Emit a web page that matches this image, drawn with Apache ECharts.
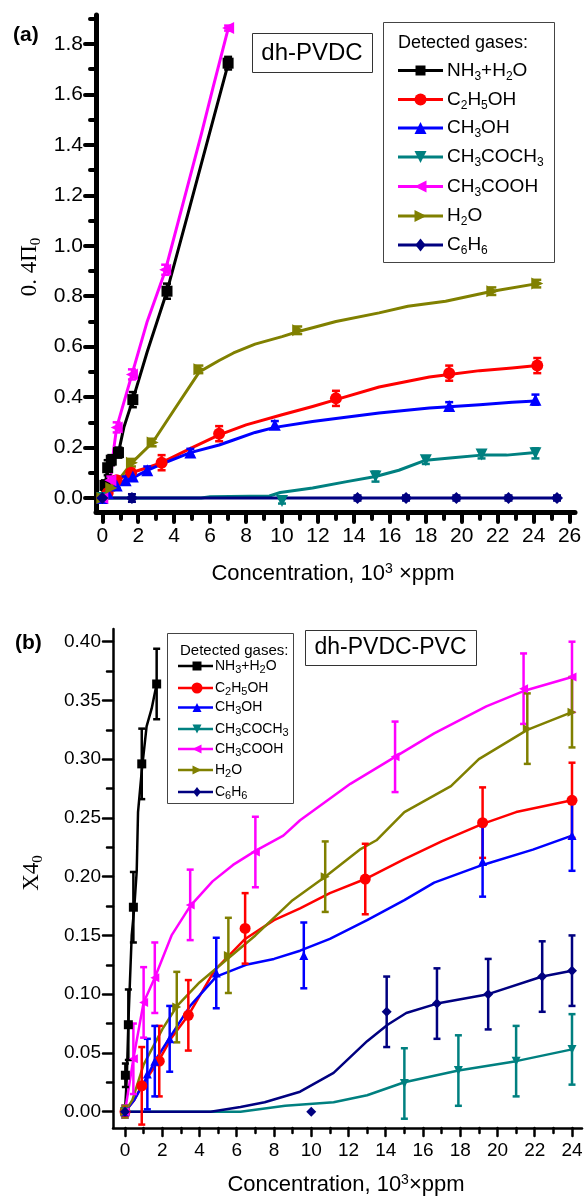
<!DOCTYPE html>
<html>
<head>
<meta charset="utf-8">
<script src="https://cdn.jsdelivr.net/npm/echarts@6/dist/echarts.min.js"></script>
<style>html,body{margin:0;padding:0;background:#fff;}#c{width:587px;height:1198px;}</style>
</head>
<body>
<div id="c"></div>
<script>
// ---------- tick labels ----------
const xTicksA = [0,2,4,6,8,10,12,14,16,18,20,22,24,26];
const xMinorA = [1,3,5,7,9,11,13,15,17,19,21,23,25];
const yTicksA = [0,0.2,0.4,0.6,0.8,1.0,1.2,1.4,1.6,1.8];
const yMinorA = [0.1,0.3,0.5,0.7,0.9,1.1,1.3,1.5,1.7,1.9];
const xTicksB = [0,2,4,6,8,10,12,14,16,18,20,22,24];
const xMinorB = [1,3,5,7,9,11,13,15,17,19,21,23];
const yTicksB = [0,0.05,0.10,0.15,0.20,0.25,0.30,0.35,0.40];
const yMinorB = [0.025,0.075,0.125,0.175,0.225,0.275,0.325,0.375];

const gasNames = ['NH_3+H_2O','C_2H_5OH','CH_3OH','CH_3COCH_3','CH_3COOH','H_2O','C_6H_6'];

// ---------- chart (a): dh-PVDC ----------  curves [x,y], markers [x,y,err]
const curveA_NH3 = [[0,0],[0.15,0.05],[0.3,0.12],[0.5,0.15],[0.9,0.18],[1.2,0.28],[1.7,0.39],[2.5,0.58],[3.6,0.82],[4.7,1.11],[6.17,1.5],[7.0,1.72]];
const markA_NH3 = [[0,0,0.01],[0.15,0.05,0.02],[0.3,0.12,0.03],[0.5,0.15,0.02],[0.9,0.18,0.02],[1.7,0.39,0.03],[3.6,0.82,0.03],[7.0,1.724,0.025]];
const curveA_C2H5OH = [[0,0],[0.3,0.02],[0.8,0.07],[1.6,0.1],[2.5,0.12],[3.3,0.14],[5,0.2],[6.5,0.25],[8,0.29],[10,0.33],[11.7,0.363],[13,0.39],[15.4,0.44],[18.2,0.48],[19.3,0.49],[21,0.505],[22.8,0.515],[24.2,0.525]];
const markA_C2H5OH = [[0,0,0.01],[0.3,0.02,0.01],[0.8,0.07,0.015],[1.6,0.1,0.015],[3.3,0.14,0.03],[6.5,0.255,0.03],[13,0.395,0.03],[19.3,0.495,0.03],[24.2,0.525,0.03]];
const curveA_CH3OH = [[0,0],[0.3,0.02],[0.8,0.05],[1.3,0.07],[1.7,0.08],[2.5,0.11],[3.5,0.14],[4.9,0.18],[6.5,0.21],[7.3,0.23],[8.5,0.26],[9.6,0.28],[11.7,0.303],[13,0.315],[15.4,0.337],[18.2,0.357],[19.3,0.362],[21,0.37],[22.8,0.38],[24.1,0.385]];
const markA_CH3OH = [[0,0,0.01],[0.3,0.02,0.01],[0.8,0.05,0.01],[1.3,0.07,0.015],[1.7,0.085,0.015],[2.5,0.11,0.015],[4.9,0.18,0.015],[9.6,0.29,0.015],[19.3,0.365,0.015],[24.1,0.39,0.02]];
const curveA_CH3COCH3 = [[0,0],[5.5,0],[6,0.005],[9.3,0.008],[9.9,0.022],[11.7,0.04],[13.6,0.065],[15.2,0.085],[16.5,0.11],[18,0.15],[19.5,0.16],[21.1,0.17],[22.5,0.17],[24.1,0.18]];
const markA_CH3COCH3 = [[0,0,0.01],[10,-0.012,0.01],[15.2,0.085,0.02],[18,0.15,0.015],[21.1,0.172,0.015],[24.1,0.177,0.02]];
const curveA_CH3COOH = [[0,0],[0.45,0.07],[0.63,0.19],[0.8,0.28],[1.65,0.49],[2.5,0.7],[3.5,0.9],[4.5,1.17],[5.5,1.44],[6.17,1.63],[7.0,1.86]];
const markA_CH3COOH = [[0,0,0.01],[0.45,0.07,0.015],[0.8,0.28,0.02],[1.65,0.49,0.02],[3.5,0.905,0.02],[7.0,1.863,0.01]];
const curveA_H2O = [[0,0],[0.5,0.04],[1,0.08],[1.65,0.14],[2.8,0.22],[4,0.35],[5.4,0.5],[6.5,0.545],[7.3,0.575],[8.5,0.61],[10,0.64],[10.9,0.66],[11.7,0.675],[13,0.7],[15.4,0.734],[17,0.76],[19.1,0.78],[21.7,0.82],[24.2,0.85]];
const markA_H2O = [[0,0,0.01],[0.5,0.04,0.01],[1.65,0.14,0.015],[2.8,0.22,0.015],[5.4,0.51,0.015],[10.9,0.665,0.015],[21.7,0.82,0.015],[24.2,0.85,0.015]];
const curveA_C6H6 = [[0,0],[25.3,0]];
const markA_C6H6 = [[0,0,0.01],[1.65,0,0.015],[14.2,0,0.01],[16.9,0,0.01],[19.7,0,0.01],[22.6,0,0.01],[25.3,0,0.01]];

// ---------- chart (b): dh-PVDC-PVC ----------
const curveB_NH3 = [[0,0],[0.1,0.03],[0.18,0.075],[0.36,0.15],[0.5,0.174],[0.63,0.205],[0.7,0.255],[0.9,0.29],[1.16,0.328],[1.43,0.343],[1.7,0.364]];
const markB_NH3 = [[0,0,0],[0.02,0.031,0.01],[0.18,0.074,0.03],[0.45,0.174,0.03],[0.9,0.296,0.03],[1.7,0.364,0.03]];
const curveB_C2H5OH = [[0,0],[0.5,0.01],[0.9,0.022],[1.8,0.043],[2.5,0.063],[3.4,0.082],[4.8,0.12],[6.45,0.147],[8,0.163],[9.4,0.173],[11,0.186],[12.9,0.198],[15,0.215],[17,0.23],[19.2,0.245],[21,0.255],[24,0.265]];
const markB_C2H5OH = [[0,0,0.005],[0.9,0.022,0.033],[1.84,0.043,0.03],[3.4,0.082,0.03],[6.45,0.156,0.03],[12.9,0.198,0.03],[19.2,0.246,0.03],[24,0.265,0.032]];
const curveB_CH3OH = [[0,0],[0.5,0.01],[1.2,0.03],[1.6,0.043],[2.4,0.063],[3.5,0.09],[4.9,0.115],[6.5,0.125],[8,0.13],[9.4,0.137],[11,0.147],[13,0.163],[15,0.18],[16.6,0.195],[19.2,0.21],[21.9,0.223],[24,0.235]];
const markB_CH3OH = [[0,0,0.005],[1.2,0.032,0.03],[1.6,0.043,0.03],[2.4,0.062,0.028],[4.9,0.118,0.03],[9.6,0.133,0.028],[19.2,0.213,0.03],[24,0.235,0.03]];
const curveB_CH3COCH3 = [[0,0],[6.2,0],[8.6,0.005],[11.2,0.008],[13,0.014],[15,0.025],[17.9,0.035],[21,0.043],[24,0.053]];
const markB_CH3COCH3 = [[0,0,0],[15,0.024,0.03],[17.9,0.035,0.03],[21,0.043,0.03],[24,0.053,0.03]];
const curveB_CH3COOH = [[0,0],[0.45,0.045],[1,0.093],[1.6,0.114],[2.5,0.15],[3.5,0.175],[4.7,0.196],[5.8,0.21],[7,0.222],[8.5,0.235],[9.4,0.248],[12.1,0.279],[14.5,0.302],[16.6,0.322],[19.4,0.345],[21.4,0.358],[24,0.37]];
const markB_CH3COOH = [[0,0,0.005],[0.45,0.045,0.03],[1,0.093,0.03],[1.6,0.114,0.03],[3.5,0.176,0.03],[7,0.221,0.03],[14.5,0.302,0.03],[21.4,0.36,0.03],[24,0.37,0.03]];
const curveB_H2O = [[0,0],[0.4,0.01],[1,0.04],[2,0.07],[2.8,0.09],[4,0.11],[5.5,0.13],[7,0.15],[9,0.18],[10.75,0.2],[12.6,0.223],[13.5,0.231],[15,0.255],[17.5,0.277],[19,0.3],[21.6,0.325],[24,0.34]];
const markB_H2O = [[0,0,0.005],[2.78,0.089,0.03],[5.55,0.133,0.032],[10.75,0.2,0.03],[21.6,0.326,0.03],[24,0.34,0.03]];
const curveB_C6H6 = [[0,0],[4.6,0],[6.2,0.004],[7.5,0.008],[9.4,0.017],[11.2,0.033],[13,0.06],[14.1,0.074],[15.1,0.084],[16.75,0.092],[19.5,0.1],[22.4,0.115],[24,0.12]];
const markB_C6H6 = [[0,0,0],[10,0,0],[14.05,0.085,0.03],[16.75,0.092,0.03],[19.5,0.1,0.03],[22.4,0.115,0.03],[24,0.12,0.03]];

const curvesA = [curveA_NH3,curveA_C2H5OH,curveA_CH3OH,curveA_CH3COCH3,curveA_CH3COOH,curveA_H2O,curveA_C6H6];
const marksA  = [markA_NH3,markA_C2H5OH,markA_CH3OH,markA_CH3COCH3,markA_CH3COOH,markA_H2O,markA_C6H6];
const curvesB = [curveB_NH3,curveB_C2H5OH,curveB_CH3OH,curveB_CH3COCH3,curveB_CH3COOH,curveB_H2O,curveB_C6H6];
const marksB  = [markB_NH3,markB_C2H5OH,markB_CH3OH,markB_CH3COCH3,markB_CH3COOH,markB_H2O,markB_C6H6];

// ---------- styles ----------
const colors = ['#000000','#ff0000','#0000ff','#008080','#ff00ff','#808000','#000080'];
const symbols = ['rect','circle','triangle','triangle','triangle','triangle','diamond'];
const rotates = [0,0,0,180,90,-90,0];
const shapeKind = ['rect','circle','up','down','left','right','diamond'];
const FONT = 'Liberation Sans';
const SERIF = 'Liberation Serif';

function errRender(cap, lw, color){
  return function(params, api){
    const x = api.value(0), y = api.value(1), e = api.value(2);
    if (!e) return null;
    const t = api.coord([x, y + e]), b = api.coord([x, y - e]);
    const st = {stroke: color, lineWidth: lw};
    return {type:'group', children:[
      {type:'line', shape:{x1:t[0],y1:t[1],x2:b[0],y2:b[1]}, style:st},
      {type:'line', shape:{x1:t[0]-cap,y1:t[1],x2:t[0]+cap,y2:t[1]}, style:st},
      {type:'line', shape:{x1:b[0]-cap,y1:b[1],x2:b[0]+cap,y2:b[1]}, style:st}
    ]};
  };
}

const series = [];
function addChart(curves, marks, axisIdx, lw, msize, cap, elw){
  for (let i = 0; i < 7; i++){
    series.push({type:'line', xAxisIndex:axisIdx, yAxisIndex:axisIdx, data:curves[i],
      symbol:'none', smooth:false, lineStyle:{color:colors[i], width:lw, join:'round'}, z:2, silent:true});
    series.push({type:'custom', xAxisIndex:axisIdx, yAxisIndex:axisIdx, data:marks[i],
      encode:{x:0,y:1}, renderItem:errRender(cap, elw, colors[i]), z:3, silent:true});
    series.push({type:'scatter', xAxisIndex:axisIdx, yAxisIndex:axisIdx,
      data:marks[i].map(m => [m[0], m[1]]), symbol:symbols[i], symbolSize:msize[i], symbolRotate:rotates[i],
      itemStyle:{color:colors[i], opacity:1}, z:4, silent:true});
  }
}
addChart(curvesA, marksA, 0, 3, [11,12,12,12,12,12,12], 4, 2.5);
addChart(curvesB, marksB, 2, 2.5, [9,11,9,9,9,9,10], 3.5, 2.5);

function valAxis(grid, pos, min, max, major, minor, opts, isMinor){
  return {type:'value', gridIndex:grid, position:pos, min:min, max:max,
    splitLine:{show:false},
    axisLine:{show:!isMinor, onZero:false, lineStyle:{color:'#000', width:opts.lineW}},
    axisTick:{show:true, inside:false, length: isMinor ? opts.minorLen : opts.majorLen,
      customValues: isMinor ? minor : major, lineStyle:{color:'#000', width:opts.tickW, cap:'round'}},
    axisLabel:{show:!isMinor, customValues: major, color:'#000', fontFamily:FONT, fontSize:opts.fs, margin:opts.margin,
      formatter: opts.fmt},
    axisPointer:{show:false}
  };
}
const fmtInt = v => String(Math.round(v));
const fmt1 = v => v.toFixed(1);
const fmt2 = v => v.toFixed(2);

const optA_x = {lineW:5, tickW:4, majorLen:10, minorLen:7, fs:21, margin:14, fmt:fmtInt};
const optA_y = {lineW:5, tickW:4, majorLen:11, minorLen:6, fs:21, margin:13, fmt:fmt1};
const optB_x = {lineW:2.5, tickW:2.5, majorLen:8, minorLen:5, fs:19, margin:13, fmt:fmtInt};
const optB_y = {lineW:2.5, tickW:2.5, majorLen:10, minorLen:6, fs:19, margin:12, fmt:fmt2};

const xAxes = [
  valAxis(0,'bottom',-0.35,26.3,xTicksA,xMinorA,optA_x,false),
  valAxis(0,'bottom',-0.35,26.3,xTicksA,xMinorA,optA_x,true),
  valAxis(1,'bottom',-0.644,24.537,xTicksB,xMinorB,optB_x,false),
  valAxis(1,'bottom',-0.644,24.537,xTicksB,xMinorB,optB_x,true)
];
const yAxes = [
  valAxis(0,'left',-0.0555,1.915,yTicksA,yMinorA,optA_y,false),
  valAxis(0,'left',-0.0555,1.915,yTicksA,yMinorA,optA_y,true),
  valAxis(1,'left',-0.0139,0.4108,yTicksB,yMinorB,optB_y,false),
  valAxis(1,'left',-0.0139,0.4108,yTicksB,yMinorB,optB_y,true)
];

// ---------- graphic texts / legends ----------
function richLabel(s){
  return s.split(/(_\d)/).filter(t => t).map(t => t[0] === '_' ? '{s|' + t.slice(1) + '}' : '{n|' + t + '}').join('');
}
function shapeEl(kind, cx, cy, s, color){
  const h = s / 2;
  const st = {fill:color};
  if (kind === 'rect') return {type:'rect', shape:{x:cx-h, y:cy-h, width:s, height:s}, style:st, z:102};
  if (kind === 'circle') return {type:'circle', shape:{cx:cx, cy:cy, r:h}, style:st, z:102};
  let pts;
  if (kind === 'up') pts = [[cx,cy-h],[cx+h,cy+h],[cx-h,cy+h]];
  else if (kind === 'down') pts = [[cx,cy+h],[cx+h,cy-h],[cx-h,cy-h]];
  else if (kind === 'left') pts = [[cx-h,cy],[cx+h,cy-h],[cx+h,cy+h]];
  else if (kind === 'right') pts = [[cx+h,cy],[cx-h,cy-h],[cx-h,cy+h]];
  else pts = [[cx,cy-h*1.1],[cx+h*0.85,cy],[cx,cy+h*1.1],[cx-h*0.85,cy]];
  return {type:'polygon', shape:{points:pts}, style:st, z:102};
}
function txt(x, y, text, rich, align, size, weight, extra){
  const st = {text:text, fill:'#000', textAlign:align||'left', align:align||'left',
      textVerticalAlign:'middle', verticalAlign:'middle', fontFamily:FONT};
  if (rich) st.rich = rich;
  if (size) st.fontSize = size;
  if (weight) st.fontWeight = weight;
  const el = {type:'text', x:x, y:y, z:103, style:st};
  if (extra) Object.assign(el, extra);
  return el;
}

const graphics = [];
graphics.push(txt(13, 35, '(a)', null, 'left', 21, 'bold'));
graphics.push(txt(15, 643, '(b)', null, 'left', 21, 'bold'));

// title boxes
graphics.push({type:'rect', z:100, shape:{x:252.5, y:33.5, width:120, height:39}, style:{fill:'#fff', stroke:'#333', lineWidth:1}});
graphics.push(txt(312, 53, 'dh-PVDC', null, 'center', 24));
graphics.push({type:'rect', z:100, shape:{x:305.5, y:630.5, width:171, height:35}, style:{fill:'#fff', stroke:'#333', lineWidth:1}});
graphics.push(txt(390.5, 648, 'dh-PVDC-PVC', null, 'center', 23));

// legend (a)
const richA = {n:{fontSize:19, fontFamily:FONT, fill:'#000', color:'#000', lineHeight:20},
               s:{fontSize:12, fontFamily:FONT, fill:'#000', color:'#000', lineHeight:13, padding:[12,0,0,0]}};
graphics.push({type:'rect', z:100, shape:{x:383.5, y:22.5, width:171, height:240}, style:{fill:'#fff', stroke:'#444', lineWidth:1}});
graphics.push(txt(398, 43, 'Detected gases:', null, 'left', 18));
const legYA = [70.5, 99.5, 128, 157, 186.5, 216, 245];
for (let i = 0; i < 7; i++){
  const y = legYA[i];
  graphics.push({type:'line', z:101, shape:{x1:398, y1:y, x2:443, y2:y}, style:{stroke:colors[i], lineWidth:3}});
  graphics.push(shapeEl(shapeKind[i], 420.5, y, i === 0 ? 10 : 12, colors[i]));
  graphics.push(txt(447, y, richLabel(gasNames[i]), richA, 'left'));
}

// legend (b)
const richB = {n:{fontSize:14, fontFamily:FONT, fill:'#000', color:'#000', lineHeight:15},
               s:{fontSize:11, fontFamily:FONT, fill:'#000', color:'#000', lineHeight:11, padding:[7,0,0,0]}};
graphics.push({type:'rect', z:100, shape:{x:167.5, y:633.5, width:126, height:170}, style:{fill:'#fff', stroke:'#444', lineWidth:1}});
graphics.push(txt(180, 650.5, 'Detected gases:', null, 'left', 15));
const legYB = [666, 688, 707.5, 729, 749, 770, 792];
for (let i = 0; i < 7; i++){
  const y = legYB[i];
  graphics.push({type:'line', z:101, shape:{x1:178, y1:y, x2:213, y2:y}, style:{stroke:colors[i], lineWidth:2.5}});
  graphics.push(shapeEl(shapeKind[i], 197, y, i === 1 ? 11 : 9, colors[i]));
  graphics.push(txt(215, y, richLabel(gasNames[i]), richB, 'left'));
}

// axis titles
const richX = {n:{fontSize:22, fontFamily:FONT, fill:'#000', color:'#000', lineHeight:24},
               p:{fontSize:14, fontFamily:FONT, fill:'#000', color:'#000', lineHeight:14, padding:[0,0,10,0]}};
graphics.push(txt(333, 574, '{n|Concentration, 10}{p|3}{n| ×ppm}', richX, 'center'));
graphics.push(txt(346, 1185, '{n|Concentration, 10}{p|3}{n|×ppm}', richX, 'center'));

const richYA = {n:{fontSize:23, fontFamily:SERIF, fill:'#000', color:'#000', lineHeight:24},
                s:{fontSize:15, fontFamily:SERIF, fill:'#000', color:'#000', lineHeight:15, padding:[12,0,0,0]}};
graphics.push(txt(30, 267, '{n|0. 4Π}{s|0}', richYA, 'center', null, null, {rotation:Math.PI/2}));
graphics.push(txt(32, 873, '{n|X4}{s|0}', richYA, 'center', null, null, {rotation:Math.PI/2}));

const option = {
  animation:false,
  backgroundColor:'#fff',
  grid:[
    {left:96, top:15, width:479, height:497},
    {left:113, top:629, width:469, height:499}
  ],
  xAxis:xAxes,
  yAxis:yAxes,
  series:series,
  graphic:{elements:graphics}
};
const chart = echarts.init(document.getElementById('c'), null, {renderer:'canvas'});
chart.setOption(option);
</script>
</body>
</html>
